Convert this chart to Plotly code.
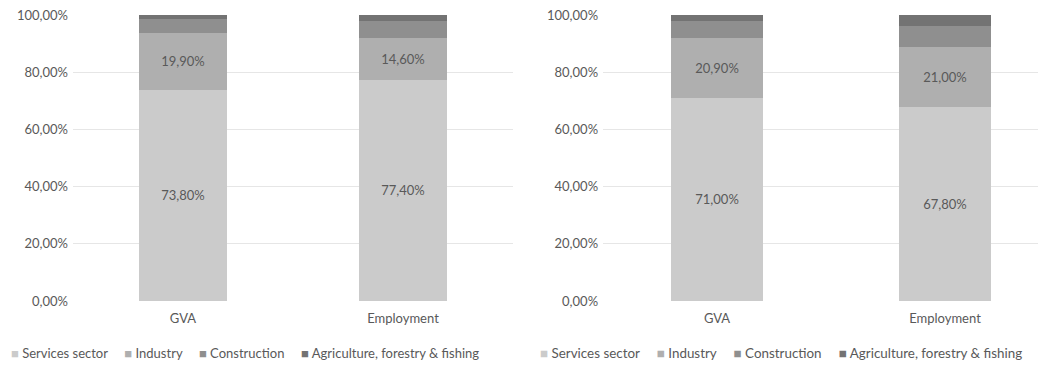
import plotly.graph_objects as go
from plotly.subplots import make_subplots

# Sector shares (%) of gross value added and employment, two regions
categories = ["GVA", "Employment"]
sectors = ["Services sector", "Industry", "Construction", "Agriculture, forestry & fishing"]

left_services = [73.8, 77.4]
left_industry = [19.9, 14.6]
left_construction = [4.8, 5.8]
left_agriculture = [1.5, 2.2]

right_services = [71.0, 67.8]
right_industry = [20.9, 21.0]
right_construction = [6.0, 7.3]
right_agriculture = [2.1, 3.9]

tick_values = [0, 20, 40, 60, 80, 100]
tick_text = [f"{v:.2f}".replace(".", ",") + "%" for v in tick_values]

colors = ["#cbcbcb", "#afafaf", "#8f8f8f", "#737373"]
labelled = [True, True, False, False]
text_color = "#595959"
font_family = "Lato, 'Open Sans', sans-serif"

fig = make_subplots(rows=1, cols=2)

panels = [
    (1, [left_services, left_industry, left_construction, left_agriculture]),
    (2, [right_services, right_industry, right_construction, right_agriculture]),
]

for col, series in panels:
    for name, values, color, show_text in zip(sectors, series, colors, labelled):
        fig.add_trace(
            go.Bar(
                x=categories,
                y=values,
                name=name,
                marker=dict(color=color, line=dict(width=0)),
                width=0.4,
                text=values if show_text else None,
                texttemplate="%{y:.2f}%" if show_text else None,
                textposition="inside" if show_text else "none",
                insidetextanchor="middle",
                textfont=dict(color=text_color, size=13, family=font_family),
                showlegend=False,
                hoverinfo="skip",
            ),
            row=1, col=col,
        )

# Legend line under each panel: coloured square followed by the sector name
gap = "&nbsp;" * 5
legend_text = gap.join(
    f"<span style='color:{c}'>■</span> {n.replace('&', '&amp;')}"
    for n, c in zip(sectors, colors)
)
for x_pos, size in ((0.0085, 13), (0.5185, 13.4)):
    fig.add_annotation(
        xref="paper", yref="paper", x=x_pos, y=-0.182,
        xanchor="left", yanchor="middle", showarrow=False,
        text=legend_text,
        font=dict(size=size, color=text_color, family=font_family),
    )

fig.update_layout(
    barmode="stack",
    separators=",.",
    width=1038,
    height=365,
    margin=dict(l=0, r=0, t=15, b=64, autoexpand=False),
    paper_bgcolor="white",
    plot_bgcolor="white",
    font=dict(family=font_family, size=13, color=text_color),
    showlegend=False,
)

fig.update_xaxes(
    type="category", showgrid=False, showline=False, zeroline=False, ticks="",
    automargin=False, ticklabelstandoff=8,
    tickfont=dict(size=13, color=text_color, family=font_family),
)
fig.update_xaxes(domain=[0.0703, 0.4942], range=[-0.5, 1.5], row=1, col=1)
fig.update_xaxes(domain=[0.581, 1.0], range=[-0.5, 1.408], row=1, col=2)

fig.update_yaxes(
    range=[0, 100], tickmode="array", tickvals=tick_values, ticktext=tick_text,
    showgrid=True, gridcolor="#e6e6e6", gridwidth=1, showline=False,
    zeroline=False, ticks="", automargin=False, ticklabelstandoff=4,
    tickfont=dict(size=13, color=text_color, family=font_family),
)

fig.write_html("out.html")
